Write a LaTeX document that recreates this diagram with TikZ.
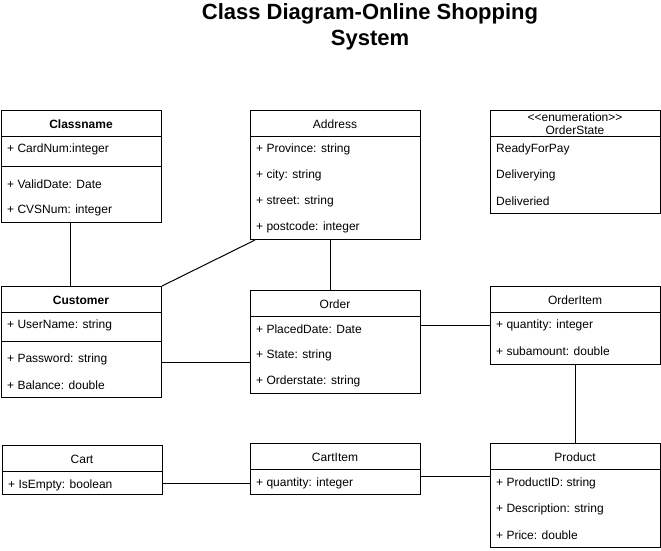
\documentclass[tikz,border=0pt]{standalone}
\usepackage{fontspec}
\setmainfont{Liberation Sans}[Ligatures=TeXOff]
\begin{document}
\begin{tikzpicture}[x=1pt,y=-1pt,
  box/.style={draw, line width=1pt, anchor=north west, inner sep=0pt},
  sep/.style={line width=1pt},
  conn/.style={line width=1pt},
  attr/.style={anchor=west, inner sep=0pt, font=\fontsize{12}{14}\selectfont},
  head/.style={anchor=center, inner sep=0pt, font=\fontsize{12}{14}\selectfont},
  bhead/.style={anchor=center, inner sep=0pt, font=\fontsize{12}{14}\selectfont\bfseries},
  titlef/.style={anchor=center, inner sep=0pt, font=\fontsize{22}{26}\selectfont\bfseries}]
\useasboundingbox[fill=white] (0,0) rectangle (661,550);

% title
\node[titlef] (t1) at (370,14) {Class Diagram-Online Shopping};
\node[titlef] (t2) at (370,40) {System};

% Classname
\node[box, minimum width=160pt, minimum height=112pt] (classname) at (1,110) {};
\draw[sep] (1,136) -- (161,136);
\draw[sep] (1,166) -- (161,166);
\node[bhead] (classnameT) at (81,124) {Classname};
\node[attr] (cn1) at (7,149) {+ CardNum:integer};
\node[attr] (cn2) at (7,184) {+ ValidDate: Date};
\node[attr] (cn3) at (7,210) {+ CVSNum: integer};

% Address
\node[box, minimum width=170pt, minimum height=129pt] (address) at (250,110) {};
\draw[sep] (250,136) -- (420,136);
\node[head] (addressT) at (335,124) {Address};
\node[attr] (ad1) at (256,149) {+ Province: string};
\node[attr] (ad2) at (256,175) {+ city: string};
\node[attr] (ad3) at (256,201) {+ street: string};
\node[attr] (ad4) at (256,227) {+ postcode: integer};

% OrderState
\node[box, minimum width=170pt, minimum height=103pt] (orderstate) at (490,110) {};
\draw[sep] (490,136) -- (660,136);
\node[head] (osT1) at (575,117) {<<enumeration>>};
\node[head] (osT2) at (575,130) {OrderState};
\node[attr] (os1) at (496,149) {ReadyForPay};
\node[attr] (os2) at (496,175) {Deliverying};
\node[attr] (os3) at (496,201) {Deliveried};

% Customer
\node[box, minimum width=160pt, minimum height=111pt] (customer) at (1,286) {};
\draw[sep] (1,312) -- (161,312);
\draw[sep] (1,341) -- (161,341);
\node[bhead] (customerT) at (81,300) {Customer};
\node[attr] (cu1) at (7,325) {+ UserName: string};
\node[attr] (cu2) at (7,359) {+ Password: string};
\node[attr] (cu3) at (7,385) {+ Balance: double};

% Order
\node[box, minimum width=170pt, minimum height=103pt] (order) at (250,290) {};
\draw[sep] (250,316) -- (420,316);
\node[head] (orderT) at (335,304) {Order};
\node[attr] (or1) at (256,329) {+ PlacedDate: Date};
\node[attr] (or2) at (256,355) {+ State: string};
\node[attr] (or3) at (256,381) {+ Orderstate: string};

% OrderItem
\node[box, minimum width=170pt, minimum height=78pt] (orderitem) at (490,286) {};
\draw[sep] (490,312) -- (660,312);
\node[head] (oiT) at (575,300) {OrderItem};
\node[attr] (oi1) at (496,325) {+ quantity: integer};
\node[attr] (oi2) at (496,351) {+ subamount: double};

% Cart
\node[box, minimum width=160pt, minimum height=49pt] (cart) at (2,445) {};
\draw[sep] (2,471) -- (162,471);
\node[head] (cartT) at (82,459) {Cart};
\node[attr] (ca1) at (8,485) {+ IsEmpty: boolean};

% CartItem
\node[box, minimum width=170pt, minimum height=51pt] (cartitem) at (250,443) {};
\draw[sep] (250,469) -- (420,469);
\node[head] (ciT) at (335,457) {CartItem};
\node[attr] (ci1) at (256,483) {+ quantity: integer};

% Product
\node[box, minimum width=170pt, minimum height=104pt] (product) at (490,443) {};
\draw[sep] (490,469) -- (660,469);
\node[head] (prT) at (575,457) {Product};
\node[attr] (pr1) at (496,483) {+ ProductID: string};
\node[attr] (pr2) at (496,509) {+ Description: string};
\node[attr] (pr3) at (496,535) {+ Price: double};

% connectors
\draw[conn] ([xshift=69pt]classname.south west) -- ([xshift=69pt]customer.north west);
\draw[conn] (customer.north east) -- ([xshift=5pt]address.south west);
\draw[conn] ([xshift=80pt]address.south west) -- ([xshift=80pt]order.north west);
\draw[conn] ([yshift=-76pt]customer.north east) -- ([yshift=-72pt]order.north west);
\draw[conn] ([yshift=-35pt]order.north east) -- ([yshift=-39pt]orderitem.north west);
\draw[conn] (orderitem.south) -- (product.north);
\draw[conn] ([yshift=-38pt]cart.north east) -- ([yshift=-40pt]cartitem.north west);
\draw[conn] ([yshift=-33pt]cartitem.north east) -- ([yshift=-33pt]product.north west);
\end{tikzpicture}
\end{document}
